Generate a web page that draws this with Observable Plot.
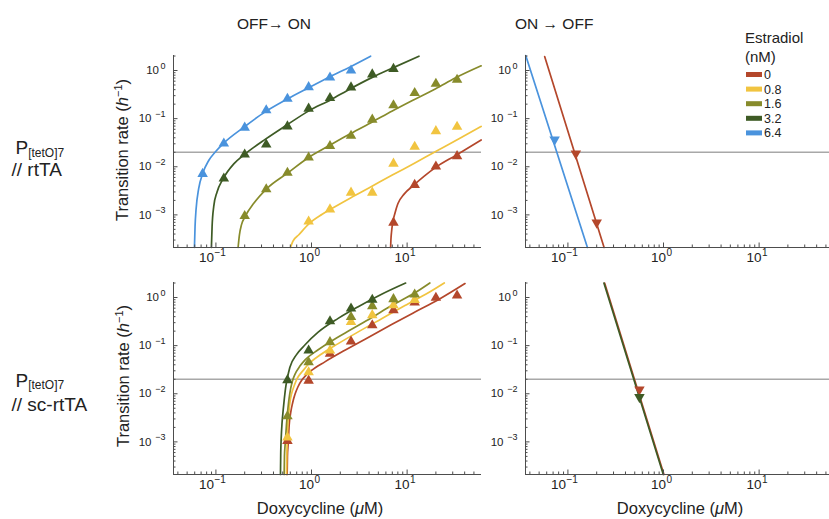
<!DOCTYPE html>
<html>
<head>
<meta charset="utf-8">
<script src="https://cdn.jsdelivr.net/npm/d3@7"></script>
<script src="https://cdn.jsdelivr.net/npm/@observablehq/plot@0.6"></script>
<style>
  html, body { margin: 0; padding: 0; background: #fff; }
  #chart { position: relative; width: 829px; height: 519px; overflow: hidden; font-family: "Liberation Sans", Arial, Helvetica, sans-serif; }
  .panel { position: absolute; }
  .panel svg { display: block; max-width: none !important; background: transparent !important; font-family: "Liberation Sans", Arial, Helvetica, sans-serif !important; }
  #overlay { position: absolute; left: 0; top: 0; pointer-events: none; }
</style>
</head>
<body>
<div id="chart"></div>
<script>
// ---------- categories & styling inputs ----------
const estradiol = ["0", "0.8", "1.6", "3.2", "6.4"];
const palette = ["#b4472b", "#f1c440", "#878b2b", "#3e5b25", "#4a93dd"];

// ---------- tick values ----------
const xTicks = [0.1, 1, 10];
const xMinorTicks = [0.04, 0.05, 0.06, 0.07, 0.08, 0.09, 0.2, 0.3, 0.4, 0.5, 0.6, 0.7, 0.8, 0.9, 2, 3, 4, 5, 6, 7, 8, 9, 20, 30, 40, 50];
const yTicks = [0.001, 0.01, 0.1, 1];
const yMinorTicks = [0.0003, 0.0004, 0.0005, 0.0006, 0.0007, 0.0008, 0.0009, 0.002, 0.003, 0.004, 0.005, 0.006, 0.007, 0.008, 0.009, 0.02, 0.03, 0.04, 0.05, 0.06, 0.07, 0.08, 0.09, 0.2, 0.3, 0.4, 0.5, 0.6, 0.7, 0.8, 0.9, 2];
const threshold = [0.02];

// ---------- OFF -> ON, P[tetO]7 // rtTA : measured rates ----------
const rtOn0  = [[7.2, 0.00069], [12, 0.0042], [20, 0.0101], [33.3, 0.0166]];
const rtOn08 = [[0.933, 0.00073], [1.56, 0.0013], [2.59, 0.0029], [4.32, 0.0029], [7.2, 0.0116], [12, 0.026], [20, 0.055], [33.3, 0.068]];
const rtOn16 = [[0.2, 0.00095], [0.336, 0.0034], [0.56, 0.0075], [0.933, 0.0156], [1.56, 0.027], [2.59, 0.044], [4.32, 0.0953], [7.2, 0.189], [12, 0.34], [20, 0.53], [33.3, 0.64]];
const rtOn32 = [[0.121, 0.0057], [0.2, 0.018], [0.336, 0.029], [0.56, 0.069], [0.933, 0.161], [1.56, 0.268], [2.59, 0.445], [4.32, 0.83], [7.2, 1.08]];
const rtOn64 = [[0.0726, 0.0071], [0.121, 0.0304], [0.2, 0.065], [0.336, 0.149], [0.56, 0.259], [0.933, 0.452], [1.56, 0.715], [2.59, 1.0]];
// fitted curves
const rtOnFit0  = [[6.72, 0.00021], [6.77, 0.000304], [6.88, 0.000452], [7.05, 0.000673], [7.46, 0.00108], [8.0, 0.0017], [9.3, 0.0027], [11.8, 0.00418], [15.0, 0.0063], [19.9, 0.00969], [32.2, 0.0172], [59.5, 0.036]];
const rtOnFit08 = [[0.6026, 0.00021], [0.6375, 0.000281], [0.737, 0.000386], [0.9378, 0.000652], [1.293, 0.00103], [1.646, 0.00137], [2.56, 0.00225], [3.98, 0.00362], [7.0, 0.00673], [11.8, 0.0117], [19.9, 0.0208], [34.9, 0.038], [59.5, 0.0688]];
const rtOnFit16 = [[0.1706, 0.00021], [0.1762, 0.000386], [0.185, 0.00062], [0.2037, 0.00095], [0.249, 0.00174], [0.3435, 0.00356], [0.556, 0.00728], [0.901, 0.0149], [1.519, 0.0272], [2.56, 0.049], [4.32, 0.0853], [7.0, 0.144], [11.8, 0.247], [19.9, 0.418], [32.2, 0.705], [59.5, 1.25]];
const rtOnFit32 = [[0.0897, 0.00021], [0.0912, 0.00057], [0.0949, 0.0015], [0.1028, 0.003], [0.118, 0.0055], [0.1538, 0.0115], [0.1955, 0.0175], [0.33, 0.0375], [0.556, 0.0745], [0.938, 0.145], [1.58, 0.245], [2.56, 0.42], [4.32, 0.72], [7.0, 1.12], [13.3, 1.98]];
const rtOnFit64 = [[0.0596, 0.00021], [0.0605, 0.00057], [0.062, 0.0013], [0.066, 0.0035], [0.0728, 0.0073], [0.0841, 0.0135], [0.0989, 0.0205], [0.1208, 0.031], [0.1955, 0.066], [0.33, 0.14], [0.556, 0.255], [0.938, 0.44], [1.58, 0.75], [2.56, 1.2], [4.15, 1.98]];

// ---------- ON -> OFF, P[tetO]7 // rtTA ----------
const rtOff0  = [[0.121, 0.0188], [0.2, 0.00069]];
const rtOff64 = [[0.0726, 0.0367]];
const rtOffFit0  = [[0.0571, 1.95], [0.239, 0.00021]];
const rtOffFit64 = [[0.0362, 2.04], [0.16, 0.00021]];

// ---------- OFF -> ON, P[tetO]7 // sc-rtTA ----------
const scOn0  = [[0.56, 0.00105], [0.933, 0.0187], [1.56, 0.068], [2.59, 0.122], [4.32, 0.264], [7.2, 0.545], [12, 0.786], [20, 0.986], [33.3, 1.1]];
const scOn08 = [[0.56, 0.00123], [0.933, 0.0279], [1.56, 0.079], [2.59, 0.31], [4.32, 0.43], [7.2, 0.69], [12, 0.89]];
const scOn16 = [[0.56, 0.0034], [0.933, 0.045], [1.56, 0.118], [2.59, 0.394], [4.32, 0.66], [7.2, 0.925], [12, 1.15]];
const scOn32 = [[0.56, 0.0192], [0.933, 0.079], [1.56, 0.32], [2.59, 0.59], [4.32, 0.9]];
const scOnFit0  = [[0.556, 0.00021], [0.56, 0.0005], [0.5696, 0.0009], [0.5836, 0.0022], [0.6075, 0.0042], [0.635, 0.0065], [0.669, 0.0095], [0.72, 0.0138], [0.786, 0.0188], [0.88, 0.0245], [1.0, 0.0305], [1.379, 0.046], [2.234, 0.08], [3.92, 0.148], [6.88, 0.275], [12.08, 0.5], [21.2, 0.9], [40.3, 1.95]];
const scOnFit08 = [[0.547, 0.00021], [0.551, 0.0005], [0.556, 0.0009], [0.565, 0.0022], [0.579, 0.004], [0.597, 0.007], [0.6174, 0.0098], [0.66, 0.0148], [0.697, 0.0195], [0.725, 0.0225], [0.823, 0.031], [0.923, 0.0405], [1.273, 0.067], [1.902, 0.11], [3.08, 0.193], [5.41, 0.363], [9.49, 0.68], [16.66, 1.25], [24.5, 2.0]];
const scOnFit16 = [[0.5173, 0.00021], [0.521, 0.0005], [0.53, 0.0009], [0.547, 0.0023], [0.5606, 0.004], [0.575, 0.0065], [0.593, 0.0102], [0.627, 0.0175], [0.669, 0.025], [0.76, 0.038], [0.852, 0.05], [1.174, 0.082], [1.62, 0.125], [2.62, 0.218], [4.25, 0.38], [6.88, 0.68], [12.08, 1.25], [17.3, 2.0]];
const scOnFit32 = [[0.4736, 0.00021], [0.4765, 0.0006], [0.482, 0.0012], [0.492, 0.0025], [0.505, 0.0045], [0.52, 0.008], [0.535, 0.013], [0.556, 0.02], [0.593, 0.035], [0.697, 0.065], [0.852, 0.103], [1.174, 0.19], [1.9, 0.368], [3.08, 0.645], [5.41, 1.17], [9.65, 2.0]];

// ---------- ON -> OFF, P[tetO]7 // sc-rtTA ----------
const scOff0  = [[0.56, 0.0123]];
const scOff32 = [[0.56, 0.0085]];
const scOffFit0  = [[0.242, 2.0], [1.01, 0.00021]];
const scOffFit32 = [[0.238, 2.0], [0.995, 0.00021]];

// ---------- helpers ----------
const FONT = '"Liberation Sans", Arial, Helvetica, sans-serif';
const AX = "#4d4d4d";
const TXT = "#222";
const xDomain = [0.036, 60];
const yDomain = [0.00021, 2.05];

const base10 = () => "10";
const expo = d => String(Math.round(Math.log10(d))).replace("-", "\u2212");
const blank = () => "";
const xTicksNeg = xTicks.filter(d => d < 1), xTicksPos = xTicks.filter(d => d >= 1);
const yTicksNeg = yTicks.filter(d => d < 1), yTicksPos = yTicks.filter(d => d >= 1);

const sqrt3 = Math.sqrt(3);
const triangleDown = {
  draw(context, size) {
    const y = -Math.sqrt(size / (sqrt3 * 3));
    context.moveTo(0, -y * 2);
    context.lineTo(-sqrt3 * y, y);
    context.lineTo(sqrt3 * y, y);
    context.closePath();
  }
};

const pack = list => list.flatMap(([name, pairs]) => pairs.map(([x, y]) => ({estradiol: name, x, y})));

// tick labels of the form 10^n: the base and the raised exponent are two axis-text marks
function xLabels(ticks, dx10) {
  return [
    Plot.axisX(ticks, {anchor: "bottom", tickSize: 0, tickPadding: 5, tickFormat: base10, textAnchor: "end", dx: dx10, fontSize: 13.5, fill: TXT, label: null}),
    Plot.axisX(ticks, {anchor: "bottom", tickSize: 0, tickPadding: 5, tickFormat: expo, textAnchor: "start", dx: dx10 + 0.5, dy: -3.5, fontSize: 10, fill: TXT, label: null})
  ];
}
function yLabels(ticks, dx10) {
  return [
    Plot.axisY(ticks, {anchor: "left", tickSize: 0, tickPadding: 0, tickFormat: base10, textAnchor: "end", dx: dx10, fontSize: 11.5, fill: TXT, label: null}),
    Plot.axisY(ticks, {anchor: "left", tickSize: 0, tickPadding: 0, tickFormat: expo, textAnchor: "end", dx: -8, dy: -4.5, fontSize: 9, fill: TXT, label: null})
  ];
}

function panel({fits, points, symbol}) {
  return Plot.plot({
    width: 363, height: 232,
    marginLeft: 55, marginRight: 0, marginTop: 12, marginBottom: 28,
    x: {type: "log", domain: xDomain},
    y: {type: "log", domain: yDomain},
    color: {domain: estradiol, range: palette},
    style: {background: "transparent", overflow: "visible"},
    marks: [
      Plot.ruleY(threshold, {stroke: "#a8a8a8", strokeWidth: 1.3}),
      Plot.line(pack(fits), {x: "x", y: "y", z: "estradiol", stroke: "estradiol", strokeWidth: 1.7, curve: "monotone-x"}),
      Plot.dot(pack(points), {x: "x", y: "y", fill: "estradiol", symbol, r: 3.9}),
      Plot.ruleX([xDomain[0]], {stroke: AX, strokeWidth: 1}),
      Plot.ruleY([yDomain[0]], {stroke: AX, strokeWidth: 1}),
      Plot.axisX(xMinorTicks, {anchor: "bottom", tickSize: -2.5, stroke: AX, tickFormat: blank, label: null}),
      Plot.axisX(xTicks, {anchor: "bottom", tickSize: -4.5, stroke: AX, tickFormat: blank, label: null}),
      ...xLabels(xTicksNeg, -2),
      ...xLabels(xTicksPos, 2.5),
      Plot.axisY(yMinorTicks, {anchor: "left", tickSize: -2.5, stroke: AX, tickFormat: blank, label: null}),
      Plot.axisY(yTicks, {anchor: "left", tickSize: -4.5, stroke: AX, tickFormat: blank, label: null}),
      ...yLabels(yTicksNeg, -22),
      ...yLabels(yTicksPos, -14.5)
    ]
  });
}

const chart = document.getElementById("chart");
function place(svg, left, top) {
  const d = document.createElement("div");
  d.className = "panel";
  d.style.left = left + "px";
  d.style.top = top + "px";
  d.appendChild(svg);
  chart.appendChild(d);
}

place(panel({
  fits: [["0", rtOnFit0], ["0.8", rtOnFit08], ["1.6", rtOnFit16], ["3.2", rtOnFit32], ["6.4", rtOnFit64]],
  points: [["0", rtOn0], ["0.8", rtOn08], ["1.6", rtOn16], ["3.2", rtOn32], ["6.4", rtOn64]],
  symbol: "triangle"
}), 118, 43);

place(panel({
  fits: [["0", rtOffFit0], ["6.4", rtOffFit64]],
  points: [["0", rtOff0], ["6.4", rtOff64]],
  symbol: triangleDown
}), 470, 43);

place(panel({
  fits: [["0", scOnFit0], ["0.8", scOnFit08], ["1.6", scOnFit16], ["3.2", scOnFit32]],
  points: [["0", scOn0], ["0.8", scOn08], ["1.6", scOn16], ["3.2", scOn32]],
  symbol: "triangle"
}), 118, 270);

place(panel({
  fits: [["0", scOffFit0], ["3.2", scOffFit32]],
  points: [["0", scOff0], ["3.2", scOff32]],
  symbol: triangleDown
}), 470, 270);

// ---------- text overlay: titles, row labels, axis titles, legend ----------
const legendRows = estradiol.map((e, i) => {
  const cy = 74.5 + i * 14.6;
  return `<rect x="746" y="${cy - 2.5}" width="16" height="5" fill="${palette[i]}"/>` +
         `<text x="764" y="${cy + 4.5}" font-size="12.5" fill="${TXT}">${e}</text>`;
}).join("");

const yTitle = (cx, cy) =>
  `<text transform="translate(${cx},${cy}) rotate(-90)" text-anchor="middle" dy="0.35em" font-size="16.5" fill="${TXT}">Transition rate (<tspan font-style="italic">h</tspan><tspan dy="-6" font-size="11">\u22121</tspan><tspan dy="6">)</tspan></text>`;
const xTitle = (cx, by) =>
  `<text x="${cx}" y="${by}" text-anchor="middle" font-size="16.5" fill="${TXT}">Doxycycline (<tspan font-style="italic">\u03BC</tspan>M)</text>`;
const rowLabel = (pBase, line2Base, line2) =>
  `<text x="15.5" y="${pBase}" font-size="19" fill="${TXT}">P<tspan font-size="12" dy="2.5">[tetO]7</tspan></text>` +
  `<text x="11.5" y="${line2Base}" font-size="19" fill="${TXT}">${line2}</text>`;

const overlay = `<svg id="overlay" width="829" height="519" xmlns="http://www.w3.org/2000/svg" font-family='${FONT}'>
  <text x="237" y="29" font-size="15.5" fill="${TXT}">OFF\u2192 ON</text>
  <text x="515" y="29" font-size="15.5" fill="${TXT}">ON \u2192 OFF</text>
  <text x="745" y="43" font-size="15" fill="${TXT}">Estradiol</text>
  <text x="745" y="62" font-size="15" fill="${TXT}">(nM)</text>
  ${legendRows}
  ${rowLabel(154, 176, "// rtTA")}
  ${rowLabel(386.5, 411, "// sc-rtTA")}
  ${yTitle(122.5, 150)}
  ${yTitle(123, 376)}
  ${xTitle(320, 514)}
  ${xTitle(680, 514)}
</svg>`;
chart.insertAdjacentHTML("beforeend", overlay);
</script>
</body>
</html>
